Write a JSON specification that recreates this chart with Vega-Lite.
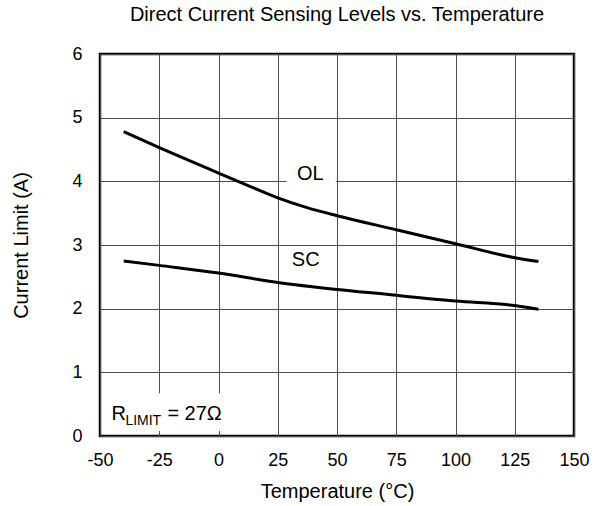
{
  "$schema": "https://vega.github.io/schema/vega-lite/v6.json",
  "width": 474,
  "height": 382,
  "autosize": "none",
  "padding": {"left": 100, "top": 54, "right": 20, "bottom": 70},
  "background": "white",
  "title": {
    "text": "Direct Current Sensing Levels vs. Temperature",
    "font": "Liberation Sans",
    "fontSize": 20,
    "fontWeight": "normal",
    "color": "#000000",
    "anchor": "middle",
    "frame": "group",
    "offset": 20
  },
  "config": {
    "view": {"stroke": "#000000", "strokeWidth": 2.5},
    "font": "Liberation Sans",
    "axis": {
      "grid": true,
      "gridColor": "#4d4d4d",
      "gridWidth": 1,
      "ticks": false,
      "domain": false,
      "labelFlush": false,
      "labelOverlap": false,
      "labelFont": "Liberation Sans",
      "labelFontSize": 18,
      "labelColor": "#000000",
      "titleFont": "Liberation Sans",
      "titleFontSize": 20,
      "titleFontWeight": "normal",
      "titleColor": "#000000"
    }
  },
  "datasets": {
    "curves": [
      {"series": "OL", "t": -40, "i": 4.78},
      {"series": "OL", "t": -25, "i": 4.53},
      {"series": "OL", "t": -12, "i": 4.32},
      {"series": "OL", "t": 0, "i": 4.13},
      {"series": "OL", "t": 12, "i": 3.94},
      {"series": "OL", "t": 25, "i": 3.74},
      {"series": "OL", "t": 37, "i": 3.59},
      {"series": "OL", "t": 50, "i": 3.46},
      {"series": "OL", "t": 75, "i": 3.24},
      {"series": "OL", "t": 100, "i": 3.02},
      {"series": "OL", "t": 125, "i": 2.8},
      {"series": "OL", "t": 135, "i": 2.74},
      {"series": "SC", "t": -40, "i": 2.75},
      {"series": "SC", "t": -25, "i": 2.68},
      {"series": "SC", "t": 0, "i": 2.56},
      {"series": "SC", "t": 25, "i": 2.41},
      {"series": "SC", "t": 50, "i": 2.3},
      {"series": "SC", "t": 75, "i": 2.21},
      {"series": "SC", "t": 85, "i": 2.17},
      {"series": "SC", "t": 100, "i": 2.12},
      {"series": "SC", "t": 125, "i": 2.05},
      {"series": "SC", "t": 135, "i": 1.99}
    ],
    "labels": [
      {"label": "OL", "t": 38.7, "i": 4.11},
      {"label": "SC", "t": 36.8, "i": 2.77}
    ],
    "one": [{}]
  },
  "encoding": {
    "x": {"type": "quantitative", "scale": {"domain": [-50, 150], "nice": false, "zero": false, "padding": 0}, "axis": {"values": [-50, -25, 0, 25, 50, 75, 100, 125, 150], "labelExpr": "toString(datum.value)", "title": "Temperature (°C)", "labelPadding": 15, "titlePadding": 12}},
    "y": {"type": "quantitative", "scale": {"domain": [0, 6], "nice": false, "zero": false, "padding": 0}, "axis": {"values": [0, 1, 2, 3, 4, 5, 6], "labelExpr": "toString(datum.value)", "title": "Current Limit (A)", "labelPadding": 18, "titlePadding": 40}}
  },
  "layer": [
    {
      "data": {"name": "one"},
      "mark": {"type": "rect", "fill": "white", "strokeWidth": 0},
      "encoding": {
        "x": {"datum": 28.7},
        "x2": {"datum": 49.5},
        "y": {"datum": 3.88},
        "y2": {"datum": 4.32}
      }
    },
    {
      "data": {"name": "one"},
      "mark": {"type": "rect", "fill": "white", "strokeWidth": 0},
      "encoding": {
        "x": {"datum": -46},
        "x2": {"datum": 5},
        "y": {"datum": 0.08},
        "y2": {"datum": 0.67}
      }
    },
    {
      "data": {"name": "curves"},
      "mark": {"type": "line", "color": "#000000", "strokeWidth": 3, "interpolate": "monotone"},
      "encoding": {
        "x": {"field": "t"},
        "y": {"field": "i"},
        "detail": {"field": "series"}
      }
    },
    {
      "data": {"name": "labels"},
      "mark": {"type": "text", "font": "Liberation Sans", "fontSize": 20, "color": "#000000", "align": "center", "baseline": "middle"},
      "encoding": {
        "x": {"field": "t"},
        "y": {"field": "i"},
        "text": {"field": "label"}
      }
    },
    {
      "data": {"name": "one"},
      "mark": {"type": "text", "font": "Liberation Sans", "fontSize": 20, "color": "#000000", "align": "left", "baseline": "alphabetic"},
      "encoding": {
        "x": {"datum": -45.2},
        "y": {"datum": 0.25},
        "text": {"value": "R"}
      }
    },
    {
      "data": {"name": "one"},
      "mark": {"type": "text", "font": "Liberation Sans", "fontSize": 14, "color": "#000000", "align": "left", "baseline": "alphabetic", "dx": 14, "dy": 5},
      "encoding": {
        "x": {"datum": -45.2},
        "y": {"datum": 0.25},
        "text": {"value": "LIMIT"}
      }
    },
    {
      "data": {"name": "one"},
      "mark": {"type": "text", "font": "Liberation Sans", "fontSize": 20, "color": "#000000", "align": "left", "baseline": "alphabetic", "dx": 56},
      "encoding": {
        "x": {"datum": -45.2},
        "y": {"datum": 0.25},
        "text": {"value": "= 27Ω"}
      }
    }
  ]
}
